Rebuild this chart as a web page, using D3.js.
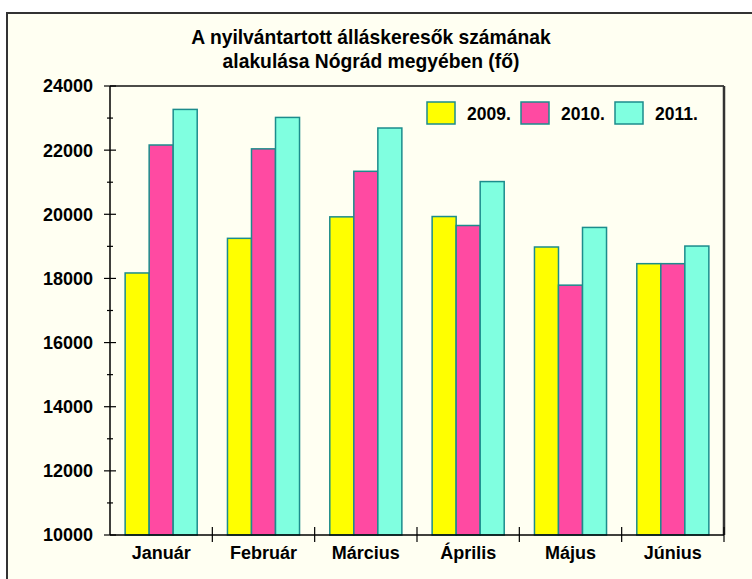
<!DOCTYPE html>
<html>
<head>
<meta charset="utf-8">
<script src="https://cdn.jsdelivr.net/npm/d3@7"></script>
<style>
  html, body { margin: 0; padding: 0; background: #ffffff; }
  svg { display: block; font-family: "Liberation Sans", Arial, sans-serif; font-weight: bold; }
</style>
</head>
<body>
<svg id="chart" width="752" height="579"></svg>
<script>
// --- Data ---
const months = ["Január", "Február", "Március", "Április", "Május", "Június"];
const years = ["2009.", "2010.", "2011."];
const values2009 = [18170, 19250, 19920, 19930, 18980, 18460];
const values2010 = [22160, 22040, 21340, 19650, 17790, 18460];
const values2011 = [23270, 23020, 22690, 21020, 19590, 19010];
const yTicks = [10000, 12000, 14000, 16000, 18000, 20000, 22000, 24000];
const titleLines = ["A nyilvántartott álláskeresők számának", "alakulása Nógrád megyében (fő)"];

const seriesValues = [values2009, values2010, values2011];
const colors = ["#ffff00", "#ff4aa2", "#80ffe0"];
const strokeColor = "#1c8c8c";

const svg = d3.select("#chart");

// outer frame
svg.append("rect")
    .attr("x", 7).attr("y", 13)
    .attr("width", 780).attr("height", 620)
    .attr("fill", "#fffff2")
    .attr("stroke", "#333").attr("stroke-width", 2);

// title
svg.append("g").selectAll("text")
    .data(titleLines)
    .join("text")
    .attr("x", 371)
    .attr("y", (d, i) => 44 + i * 24)
    .attr("text-anchor", "middle")
    .style("font-size", "19.3px")
    .text(d => d);

// --- Plot area ---
const plot = { left: 110, right: 724, top: 86, bottom: 535 };

const x0 = d3.scaleBand().domain(months).range([plot.left, plot.right]);
const x1 = d3.scaleBand().domain(years).range([0, x0.bandwidth()]).paddingInner(0).paddingOuter(0.63);
const y = d3.scaleLinear().domain([10000, 24000]).range([plot.bottom, plot.top]);

// plot border (top + right)
svg.append("path")
    .attr("d", `M${plot.left},${plot.top}H${plot.right}`)
    .attr("stroke", "#111").attr("stroke-width", 1.5).attr("fill", "none");
svg.append("path")
    .attr("d", `M${plot.right},${plot.top}V${plot.bottom}`)
    .attr("stroke", "#333").attr("stroke-width", 2.5).attr("fill", "none");

// bars
const rows = months.map((m, i) => ({ month: m, vals: years.map((yr, j) => ({ year: yr, j, value: seriesValues[j][i] })) }));

svg.append("g").selectAll("g")
    .data(rows)
    .join("g")
    .attr("transform", d => `translate(${x0(d.month)},0)`)
    .selectAll("rect")
    .data(d => d.vals)
    .join("rect")
    .attr("x", d => x1(d.year))
    .attr("y", d => y(d.value))
    .attr("width", x1.bandwidth())
    .attr("height", d => y(10000) - y(d.value))
    .attr("fill", d => colors[d.j])
    .attr("stroke", strokeColor)
    .attr("stroke-width", 1.5);

// y axis
const yAxisG = svg.append("g");
yAxisG.append("line")
    .attr("x1", plot.left).attr("x2", plot.left)
    .attr("y1", plot.top).attr("y2", plot.bottom)
    .attr("stroke", "#000").attr("stroke-width", 1.5);
const minorTicks = d3.range(11000, 24000, 2000);
yAxisG.selectAll(".major").data(yTicks).join("line")
    .attr("class", "major")
    .attr("x1", plot.left - 6).attr("x2", plot.left + 6)
    .attr("y1", d => y(d)).attr("y2", d => y(d))
    .attr("stroke", "#000").attr("stroke-width", 1.2);
yAxisG.selectAll(".minor").data(minorTicks).join("line")
    .attr("class", "minor")
    .attr("x1", plot.left - 3).attr("x2", plot.left + 3)
    .attr("y1", d => y(d)).attr("y2", d => y(d))
    .attr("stroke", "#000").attr("stroke-width", 1.2);
yAxisG.selectAll("text").data(yTicks).join("text")
    .attr("x", 93)
    .attr("y", d => y(d))
    .attr("dy", "0.36em")
    .attr("text-anchor", "end")
    .style("font-size", "18px")
    .text(d => d);

// x axis
const xAxisG = svg.append("g");
xAxisG.append("line")
    .attr("x1", plot.left).attr("x2", plot.right)
    .attr("y1", plot.bottom).attr("y2", plot.bottom)
    .attr("stroke", "#000").attr("stroke-width", 1.5);
const boundaries = months.slice(1).map(m => x0(m)).concat([plot.right]);
xAxisG.selectAll(".ctick").data(boundaries).join("line")
    .attr("class", "ctick")
    .attr("x1", d => d).attr("x2", d => d)
    .attr("y1", plot.bottom - 8).attr("y2", plot.bottom + 7)
    .attr("stroke", "#000").attr("stroke-width", 1.2);
xAxisG.selectAll("text").data(months).join("text")
    .attr("x", d => x0(d) + x0.bandwidth() / 2)
    .attr("y", 559)
    .attr("text-anchor", "middle")
    .style("font-size", "18px")
    .text(d => d);

// legend
const legendX = [427, 521, 615];
const legend = svg.append("g").selectAll("g")
    .data(years)
    .join("g")
    .attr("transform", (d, i) => `translate(${legendX[i]},102)`);
legend.append("rect")
    .attr("width", 28).attr("height", 22)
    .attr("fill", (d, i) => colors[i])
    .attr("stroke", strokeColor).attr("stroke-width", 1.5);
legend.append("text")
    .attr("x", 40).attr("y", 18)
    .style("font-size", "17.5px")
    .text(d => d);
</script>
</body>
</html>
